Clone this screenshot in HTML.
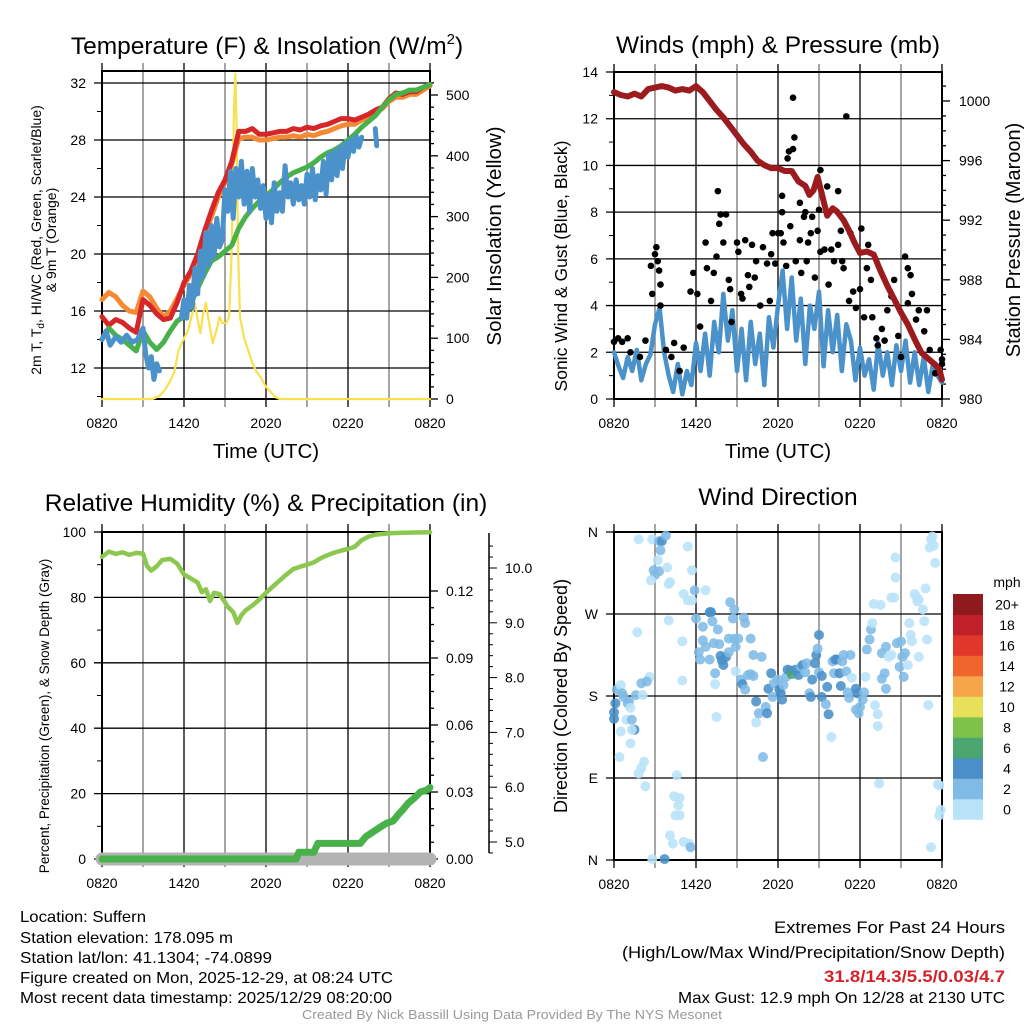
<!DOCTYPE html>
<html><head><meta charset="utf-8"><style>
html,body{margin:0;padding:0;background:#fff;}
svg{display:block;font-family:"Liberation Sans",Arial,sans-serif;}
</style></head><body>
<svg id="fig" xmlns="http://www.w3.org/2000/svg" width="1024" height="1024" viewBox="0 0 1024 1024">
<rect width="1024" height="1024" fill="#fff"/>
<g id="p1"></g>
<g id="p2"></g>
<g id="p3"></g>
<g id="p4"></g>
<text x="267" y="54" font-size="24.5" text-anchor="middle">Temperature (F) &amp; Insolation (W/m<tspan dy="-10" font-size="15">2</tspan><tspan dy="10">)</tspan></text>
<text x="778" y="53" font-size="24.5" text-anchor="middle">Winds (mph) &amp; Pressure (mb)</text>
<text x="266" y="511" font-size="24.5" text-anchor="middle">Relative Humidity (%) &amp; Precipitation (in)</text>
<text x="778" y="505" font-size="24.5" text-anchor="middle">Wind Direction</text>
<text x="266" y="458" font-size="20.5" text-anchor="middle">Time (UTC)</text>
<text x="778" y="458" font-size="20.5" text-anchor="middle">Time (UTC)</text>
<text transform="translate(41,240) rotate(-90)" font-size="14" text-anchor="middle">2m T, T<tspan dy="3" font-size="10">d</tspan><tspan dy="-3">, HI/WC (Red, Green, Scarlet/Blue)</tspan></text>
<text transform="translate(56,240) rotate(-90)" font-size="14" text-anchor="middle">&amp; 9m T (Orange)</text>
<text transform="translate(501,236) rotate(-90)" font-size="20.5" text-anchor="middle">Solar Insolation (Yellow)</text>
<text transform="translate(567,266) rotate(-90)" font-size="17.5" text-anchor="middle">Sonic Wind &amp; Gust (Blue, Black)</text>
<text transform="translate(1020,240) rotate(-90)" font-size="20" text-anchor="middle">Station Pressure (Maroon)</text>
<text transform="translate(49,716) rotate(-90)" font-size="13.5" text-anchor="middle">Percent, Precipitation (Green), &amp; Snow Depth (Gray)</text>
<text transform="translate(567,696) rotate(-90)" font-size="18" text-anchor="middle">Direction (Colored By Speed)</text>
<g font-size="16">
<text x="20" y="922" textLength="126" lengthAdjust="spacingAndGlyphs">Location: Suffern</text>
<text x="20" y="943" textLength="213" lengthAdjust="spacingAndGlyphs">Station elevation: 178.095 m</text>
<text x="20" y="963" textLength="252" lengthAdjust="spacingAndGlyphs">Station lat/lon: 41.1304; -74.0899</text>
<text x="20" y="983" textLength="373" lengthAdjust="spacingAndGlyphs">Figure created on Mon, 2025-12-29, at 08:24 UTC</text>
<text x="20" y="1003" textLength="372" lengthAdjust="spacingAndGlyphs">Most recent data timestamp: 2025/12/29 08:20:00</text>
</g>
<g font-size="17">
<text x="774" y="933" textLength="231" lengthAdjust="spacingAndGlyphs">Extremes For Past 24 Hours</text>
<text x="622" y="958" textLength="383" lengthAdjust="spacingAndGlyphs">(High/Low/Max Wind/Precipitation/Snow Depth)</text>
<text x="824" y="982" fill="#d2232a" font-weight="bold" textLength="181" lengthAdjust="spacingAndGlyphs">31.8/14.3/5.5/0.03/4.7</text>
<text x="678" y="1003" font-size="16" textLength="327" lengthAdjust="spacingAndGlyphs">Max Gust: 12.9 mph On 12/28 at 2130 UTC</text>
</g>
<text x="302" y="1019" font-size="13" fill="#999" textLength="420" lengthAdjust="spacingAndGlyphs">Created By Nick Bassill Using Data Provided By The NYS Mesonet</text>
</svg>
<script>
const timeLabels=["0820","1420","2020","0220","0820"];
const tempTicks=[12,16,20,24,28,32];
const solarTicks=[0,100,200,300,400,500];
const windTicks=[0,2,4,6,8,10,12,14];
const presTicks=[980,984,988,992,996,1000];
const rhTicks=[0,20,40,60,80,100];
const precipTicks=["0.00","0.03","0.06","0.09","0.12"];
const snowTicks=["5.0","6.0","7.0","8.0","9.0","10.0"];
const dirTicks=["N","E","S","W","N"];
const tGrid=[0,0.5,1,1.5,2,2.5,3,3.5,4,4.5,5,5.5,6,6.5,7,7.5,8,8.5,9,9.5,10,10.5,11,11.5,12,12.5,13,13.5,14,14.5,15,15.5,16,16.5,17,17.5,18,18.5,19,19.5,20,20.5,21,21.5,22,22.5,23,23.5,24];
const redT=[15.6,15.0,15.4,15.2,14.8,14.5,16.8,16.4,15.8,15.4,15.5,16.6,18.0,18.8,20.0,21.6,23.0,24.3,25.2,26.5,28.6,28.6,28.8,28.4,28.4,28.5,28.6,28.6,28.8,28.7,28.9,28.8,29.0,29.1,29.3,29.5,29.5,29.4,29.6,29.8,30.1,30.3,30.9,31.3,31.2,31.4,31.4,31.7,31.9];
const orangeT=[16.8,17.3,17.0,16.4,16.0,15.9,17.4,17.0,16.2,15.6,16.0,16.9,17.8,18.6,19.8,21.2,22.6,24.0,25.0,26.3,28.1,28.2,28.2,28.0,28.0,28.1,28.2,28.2,28.3,28.2,28.4,28.3,28.5,28.6,28.8,29.0,29.1,29.1,29.4,29.6,29.9,30.2,30.7,31.0,31.0,31.2,31.2,31.5,31.8];
const greenT=[14.0,14.8,14.3,14.0,13.6,13.2,14.6,13.8,13.3,13.8,14.6,15.3,15.6,16.5,17.6,18.6,19.5,19.8,20.2,20.6,21.8,22.6,23.2,23.7,24.1,24.5,25.0,25.4,25.7,25.9,26.1,26.4,26.8,27.1,27.3,27.6,28.0,28.4,28.9,29.3,29.7,30.3,30.8,31.2,31.3,31.5,31.5,31.7,31.9];
const blueTime=[0,0.3,0.6,1,1.4,1.8,2.2,2.6,3.0,3.2,3.4,3.6,3.8,4.0,4.2,5.0,5.8,6.0,6.2,6.4,6.6,6.8,7.0,7.2,7.4,7.6,7.8,8.0,8.2,8.4,8.6,8.8,9.0,9.2,9.4,9.6,9.8,10.0,10.2,10.4,10.6,10.8,11.0,11.2,11.4,11.6,11.8,12.0,12.2,12.4,12.6,12.8,13.0,13.2,13.4,13.6,13.8,14.0,14.2,14.4,14.6,14.8,15.0,15.2,15.4,15.6,15.8,16.0,16.2,16.4,16.6,16.8,17.0,17.2,17.4,17.6,17.8,18.0,18.2,18.4,18.6,18.8,19.0,19.5,20.0,20.1];
const blueT=[14.0,14.6,13.6,14.2,13.8,14.3,13.8,14.0,14.8,13.0,12.0,12.8,11.2,12.3,11.8,null,15.5,16.8,15.5,17.8,16.2,19.0,17.2,20.2,18.4,21.5,19.2,22.0,19.8,22.5,20.5,21.0,24.5,23.0,25.8,22.5,26.0,24.0,26.5,23.5,25.8,23.0,26.0,24.0,25.2,23.2,24.8,22.5,24.2,22.2,25.0,23.0,24.3,23.0,26.2,24.0,25.0,23.5,25.2,23.8,24.8,23.5,25.6,24.0,26.0,23.8,25.5,24.5,26.5,24.2,27.0,25.2,27.2,25.5,27.5,26.0,27.8,26.8,28.0,27.2,28.3,27.5,28.2,null,28.8,27.6];
const solarTime=[0,3.7,4.2,4.6,5.0,5.3,5.6,5.9,6.3,6.6,6.8,7.0,7.2,7.4,7.6,7.8,8.1,8.4,8.6,8.8,9.1,9.3,9.5,9.65,9.75,9.85,9.95,10.1,10.4,10.7,11.0,11.3,11.6,12.0,12.4,12.7,13.0,24];
const solarV=[0,0,5,15,30,45,80,95,113,140,158,130,108,140,158,130,92,115,135,125,125,135,250,470,535,450,250,135,100,80,59,45,36,20,10,3,0,0];
const presTime=[0,0.5,1,1.5,2,2.5,3,3.5,4,4.5,5,5.5,6,6.5,7,7.5,8,8.5,9,9.5,10,10.5,11,11.5,12,12.5,13,13.5,14,14.3,14.6,14.9,15.2,15.6,16,16.3,16.8,17.2,17.6,18,18.5,19,19.5,20,20.5,21,21.5,22,22.5,23,23.5,23.8,24];
const presV=[1000.6,1000.4,1000.3,1000.5,1000.3,1000.8,1000.9,1001.0,1000.9,1000.7,1000.8,1000.7,1001.0,1000.6,1000.0,999.4,998.9,998.3,997.7,997.1,996.6,996.0,995.7,995.5,995.5,995.3,995.3,994.6,994.3,993.7,994.0,994.9,993.8,992.3,992.8,992.6,992.0,991.3,990.5,989.8,989.9,989.7,988.6,987.6,986.7,985.8,985.0,984.0,983.1,982.7,982.3,982.0,981.3];
const windV=[2.0,1.4,0.9,1.8,1.2,2.1,0.8,1.5,1.9,3.2,3.9,2.0,1.0,0.3,1.5,0.2,1.2,0.6,2.4,1.2,2.8,1.0,3.3,2.0,4.5,2.5,3.8,1.2,3.0,0.8,3.3,1.5,2.8,0.6,3.5,2.2,4.0,5.5,3.0,5.2,2.5,4.3,1.5,4.0,3.0,4.6,1.4,3.8,2.0,3.6,1.2,3.2,2.5,0.8,2.2,1.0,1.7,0.4,2.4,1.0,2.0,0.6,2.3,1.2,2.5,0.7,2.0,0.6,1.8,0.3,1.5,1.0,0.7];
const gustT=[0,0.3,0.6,1.0,1.2,1.9,2.3,2.7,2.8,3.0,3.1,3.2,3.3,3.4,3.4,3.8,4.2,4.4,4.8,5.1,5.6,5.8,6.1,6.3,6.7,6.8,7.1,7.3,7.6,7.7,7.8,8.0,7.5,8.2,8.4,8.5,8.6,9.0,9.1,9.3,9.4,9.6,9.8,9.9,10.1,10.3,10.4,10.7,10.9,11.2,11.4,11.5,11.6,11.8,12.0,12.2,12.3,12.3,12.4,12.6,12.7,12.8,12.9,13.1,13.2,13.1,13.3,13.6,13.6,13.7,13.9,14.0,14.1,14.2,14.4,14.5,14.7,14.9,15.0,15.1,15.1,15.4,15.6,15.7,15.9,16.1,16.4,16.4,16.6,16.7,16.8,17.0,17.2,17.3,17.5,17.7,18.0,18.1,18.3,18.5,18.6,18.8,18.9,19.2,19.3,19.6,19.8,20.0,20.3,20.5,20.8,21.0,21.3,21.5,21.7,21.8,21.5,22.1,22.3,22.7,22.9,23.1,23.5,23.9,24.0,24.0];
const gustV=[2.45,2.6,2.45,2.6,2.0,1.8,2.5,5.7,4.5,6.2,6.5,5.9,5.5,4.9,4.0,2.1,1.8,2.4,1.2,2.2,4.6,5.4,4.5,3.1,6.7,5.6,4.2,5.4,8.9,7.5,7.9,6.7,6.1,7.9,5.1,4.7,3.3,6.7,6.3,4.5,4.3,6.8,5.3,4.8,6.6,5.2,5.9,4.0,6.5,5.8,4.2,6.2,7.1,5.8,7.1,7.1,8.7,8.0,6.7,5.7,10.3,10.6,7.4,10.7,11.2,12.9,5.9,8.4,6.8,5.4,7.8,8.0,5.9,6.7,7.1,7.8,5.2,7.2,8.1,9.8,6.3,6.4,9.1,4.9,6.4,5.9,8.9,6.6,7.2,5.9,5.6,12.1,4.2,7.1,4.6,3.9,4.7,7.3,3.5,5.6,6.6,5.1,3.5,2.6,2.3,3.0,2.5,3.8,4.4,5.1,2.7,1.8,6.1,5.6,5.3,4.5,4.1,3.4,3.8,2.9,3.8,2.1,1.1,2.1,1.7,1.5];
const rhTime=[0,0.5,1,1.5,2,2.5,3,3.3,3.6,4.0,4.4,5,5.5,6,6.5,7,7.3,7.6,7.9,8.2,8.6,9.0,9.2,9.6,9.9,10.2,10.5,11,11.5,12,12.5,13,13.5,14,14.5,15,15.5,16,16.5,17,17.5,18,18.5,19,19.5,20,21,22,24];
const rhV=[92.4,94,93.3,93.8,93.0,93.6,93.4,89.5,88.2,89.5,91.4,91.8,90.3,87,85.8,84.5,81.6,82.5,78.9,81.4,81.0,78.5,77.2,75.5,72.2,74.6,76.0,77.5,79.3,81.4,83.3,85.2,87.0,88.7,89.4,90,90.7,92.0,92.9,93.7,94.3,94.8,95.5,97.5,98.6,99.2,99.6,99.8,99.9];
const precipTime=[0,14.2,14.4,15.5,15.8,18.9,19.3,19.8,20.3,20.8,21.3,21.7,22.0,22.4,22.8,23.3,23.8,24];
const precipV=[0,0,0.003,0.003,0.007,0.007,0.010,0.012,0.014,0.016,0.017,0.020,0.022,0.025,0.027,0.030,0.031,0.032];
const snowTime=[0,24];
const snowV=[0,0];
const dirTime=[0.0,0,0.1,0.2,0.5,0.6,0.7,1.0,1.1,1.2,0.9,1.3,1.5,0.5,1.3,1.2,0.4,1.6,2.1,2.0,2.6,2.4,2.2,2.0,1.8,2.3,1.7,1.8,2.8,3.3,3.5,3.8,3.4,3.2,2.9,3.3,3.0,2.7,3.9,4.0,4.1,5.0,5.0,4.0,4.6,4.4,4.8,4.7,4.5,4.8,4.1,4.3,5.1,5.5,5.6,2.8,3.7,5.1,5.4,5.7,5.4,5.7,5.9,6.7,6.0,6.5,7.0,7.1,7.2,7.6,6.2,6.3,6.5,6.7,7.0,7.3,7.7,7.8,7.9,8.0,8.2,8.4,8.5,8.8,8.7,8.4,8.8,9.1,8.9,9.5,9.6,10.0,10.2,10.8,8.9,7.4,7.4,7.5,9.3,9.4,9.6,9.8,10.0,10.2,10.4,10.4,10.6,10.9,11.1,11.2,11.3,11.5,11.6,11.7,12.0,12.1,12.2,12.3,12.4,12.6,12.7,12.9,13.0,13.3,13.5,13.7,13.8,14.0,14.1,14.3,14.4,14.5,14.7,14.8,14.9,15.0,15.0,15.2,15.2,15.5,15.6,15.7,15.9,16.0,16.1,16.2,16.3,16.5,16.6,16.7,16.8,17.0,17.1,17.2,17.3,17.4,17.7,17.8,17.7,17.9,18.0,18.2,18.3,18.5,18.4,18.7,18.8,18.9,19.0,19.1,19.3,19.3,19.5,19.4,19.6,19.6,19.8,19.9,19.9,20.1,20.3,20.3,20.5,20.6,20.6,20.7,20.9,21.0,21.1,21.2,21.3,21.5,21.6,21.7,21.8,22.0,22.1,22.2,22.3,22.6,22.7,22.8,22.9,22.3,23.0,23.2,23.2,23.3,23.4,23.1,23.5,23.7,23.8,23.9,23.8];
const dirDeg=[162,155,172,187,192,183,179,172,174,167,154,154,143,141,143,128,113,181,181,194,201,196,108,101,95,81,250,352,352,350,350,356,340,329,318,317,313,307,321,303,305,240,197,263,93,70,68,60,49,49,27,18,20,18,14,1,1,292,285,285,344,318,296,296,265,256,272,272,262,253,228,220,241,234,220,238,237,224,219,214,223,228,283,275,265,243,243,243,234,266,260,243,225,223,207,205,193,157,198,193,187,203,204,202,174,151,161,113,168,161,188,205,179,194,198,187,183,176,192,201,209,208,204,209,203,212,214,206,216,183,179,198,216,225,232,247,206,202,179,171,190,160,135,218,205,220,220,205,191,218,225,207,184,178,225,200,188,183,165,161,168,176,184,231,201,242,253,260,281,170,160,147,280,84,227,199,205,234,188,223,225,288,288,310,332,238,212,240,223,201,227,214,260,247,240,292,289,284,286,275,262,298,242,223,170,14,352,355,345,343,326,83,49,55,82];
const dirSpeed=[5,5,5,3,1,3,3,3,3,1,1,3,5,1,1,1,1,3,1,3,1,3,1,1,1,1,1,1,1,3,5,3,3,1,3,3,3,1,1,1,1,1,1,1,1,1,1,1,1,1,1,1,1,1,3,1,5,1,1,1,1,1,3,1,3,3,5,5,3,3,3,3,3,3,3,3,3,5,5,5,5,3,3,3,3,3,3,3,3,3,3,3,3,3,1,3,1,1,3,5,3,3,3,3,5,1,3,3,3,5,5,5,3,3,3,5,5,5,3,3,5,5,7,5,5,3,5,3,3,3,5,5,5,5,3,5,3,5,5,3,5,5,1,3,3,5,5,5,5,3,3,3,3,3,3,1,5,5,3,3,3,3,3,3,1,3,3,1,1,1,1,1,1,1,3,3,3,3,3,1,1,1,1,1,1,3,3,3,3,3,3,1,1,1,1,1,1,1,1,1,1,1,1,1,1,1,1,1,1,1,1,1,1,1,1,1,1,1,1,1];
const speedLabels=["0","2","4","6","8","10","12","14","16","18","20+"];
const speedColors=["#b9e3f8","#7fbbe6","#4a8fc8","#4aa56f","#7fc24a","#e8e05a","#f6a649","#f0652d","#e0372a","#c0202a","#8f1a1e"];

const NS="http://www.w3.org/2000/svg";
function mk(parent,tag,attrs){const e=document.createElementNS(NS,tag);for(const k in attrs)e.setAttribute(k,attrs[k]);parent.appendChild(e);return e;}
function lin(d0,d1,r0,r1){return v=>r0+(v-d0)*(r1-r0)/(d1-d0);}
function pathFrom(xs,ys,fx,fy){let d="",pen=false;for(let i=0;i<xs.length;i++){if(ys[i]===null||ys[i]===undefined){pen=false;continue;}d+=(pen?"L":"M")+fx(xs[i]).toFixed(1)+","+fy(ys[i]).toFixed(1);pen=true;}return d;}

function frame(g,L,T,R,B){
  const gx=lin(0,24,L,R);
  for(let h=0;h<=24;h+=3){
    const x=gx(h);
    const ln=mk(g,"line",{x1:x,y1:T-8,x2:x,y2:B+8,stroke:(h%6===0)?"#000":"#777","stroke-width":1.3});
    
    
  }
  timeLabels.forEach((s,i)=>{
    const t=mk(g,"text",{x:gx(i*6),y:B+29,"font-size":14,"text-anchor":"middle"});t.textContent=s;
    
    
  });
  return gx;
}
function hgrid(g,L,R,y,label,x0){
  const ln=mk(g,"line",{x1:L-8,y1:y,x2:R,y2:y,stroke:"#000","stroke-width":1.3});
  
  
  if(label!==null){const t=mk(g,"text",{x:x0,y:y+5,"font-size":14,"text-anchor":"end"});t.textContent=label;
  
  }
}
function rightTick(g,x,y,len){
  mk(g,"line",{x1:x,y1:y,x2:x+len,y2:y,stroke:"#000","stroke-width":1.3});
}
function box(g,L,T,R,B){const r=mk(g,"rect",{x:L,y:T,width:R-L,height:B-T,fill:"none",stroke:"#000","stroke-width":2});
  
  }
function line(g,d,color,w,name){const p=mk(g,"path",{d:d,fill:"none",stroke:color,"stroke-width":w,"stroke-linejoin":"round","stroke-linecap":"round"});
  
  return p;}

// Panel 1
(function(){
  const g=document.getElementById("p1");const L=102,T=71,R=430,B=399;
  const gx=frame(g,L,T,R,B);
  const fy=lin(12,32,368,83);
  const fs=lin(0,500,399,95);
  tempTicks.forEach(v=>hgrid(g,L,R,fy(v),String(v),L-16));
  for(let v=10;v<=32;v+=2){if(v%4)mk(g,"line",{x1:L-5,y1:fy(v),x2:L,y2:fy(v),stroke:"#000"});}
  for(let v=0;v<=530;v+=20){rightTick(g,R,fs(v),v%100===0?8:4);}
  solarTicks.forEach(v=>{const t=mk(g,"text",{x:R+16,y:fs(v)+5,"font-size":14});t.textContent=String(v);
    
    });
  box(g,L,T,R,B);
  line(g,pathFrom(solarTime,solarV,gx,fs),"#f9e04f",2.2,"solar-line");
  line(g,pathFrom(tGrid,orangeT,gx,fy),"#f58a34",5,"9m-temp-line");
  line(g,pathFrom(tGrid,redT,gx,fy),"#d7262a",5,"2m-temp-line");
  line(g,pathFrom(tGrid,greenT,gx,fy),"#48b14a",5,"dewpoint-line");
  line(g,pathFrom(blueTime,blueT,gx,fy),"#4b92cb",5,"wind-chill-line");
})();

// Panel 2
(function(){
  const g=document.getElementById("p2");const L=614,T=72,R=942,B=399;
  const gx=frame(g,L,T,R,B);
  const fy=lin(0,14,399,72);
  const fp=lin(980,1000,399,101);
  windTicks.forEach(v=>hgrid(g,L,R,fy(v),String(v),L-16));
  for(let v=1;v<14;v+=2)mk(g,"line",{x1:L-5,y1:fy(v),x2:L,y2:fy(v),stroke:"#000"});
  for(let v=980;v<=1001;v+=1){rightTick(g,R,fp(v),v%4===0?8:4);}
  presTicks.forEach(v=>{const t=mk(g,"text",{x:R+17,y:fp(v)+5,"font-size":14});t.textContent=String(v);
    
    });
  box(g,L,T,R,B);
  const wt=windV.map((v,i)=>i/3);
  line(g,pathFrom(wt,windV,gx,fy),"#4b92cb",4.5,"sonic-wind-line");
  gustT.forEach((t,i)=>{const c=mk(g,"circle",{cx:gx(t),cy:fy(gustV[i]),r:3.3,fill:"#000"});
    
    });
  line(g,pathFrom(presTime,presV,gx,fp),"#9b1b1e",6,"pressure-line");
})();

// Panel 3
(function(){
  const g=document.getElementById("p3");const L=102,T=532,R=430,B=859;
  const gx=frame(g,L,T,R,B);
  const fy=lin(0,100,859,532);
  const fpr=lin(0,0.03,859,792);
  const fsn=lin(5,10,842,568);
  rhTicks.forEach(v=>hgrid(g,L,R,fy(v),String(v),L-16));
  for(let v=10;v<100;v+=20)mk(g,"line",{x1:L-5,y1:fy(v),x2:L,y2:fy(v),stroke:"#000"});
  for(let k=0;k<=16;k++){const v=k*0.0075;rightTick(g,R,fpr(v),k%4===0?8:4);}
  precipTicks.forEach(s=>{const t=mk(g,"text",{x:R+16,y:fpr(parseFloat(s))+5,"font-size":14});t.textContent=s;
    
    });
  const sx=489;
  const sa=mk(g,"line",{x1:sx,y1:533,x2:sx,y2:853,stroke:"#000","stroke-width":1.5});
  
  
  for(let k=0;k<=28;k++){const v=4.8+k*0.2;const y=fsn(v);if(y<533)continue;mk(g,"line",{x1:sx,y1:y,x2:sx+(Math.abs(Math.round(v*10)%10)===0?8:4),y2:y,stroke:"#000"});}
  snowTicks.forEach(s=>{const t=mk(g,"text",{x:sx+16,y:fsn(parseFloat(s))+5,"font-size":14});t.textContent=s;
    
    });
  box(g,L,T,R,B);
  line(g,pathFrom(snowTime,snowV,gx,v=>fpr(0)),"#b3b3b3",13,"snow-depth-line");
  line(g,pathFrom(precipTime,precipV,gx,fpr),"#48b14a",7,"precipitation-line");
  line(g,pathFrom(rhTime,rhV,gx,fy),"#8cc850",4.5,"humidity-line");
})();

// Panel 4
(function(){
  const g=document.getElementById("p4");const L=614,T=532,R=942,B=860;
  const gx=frame(g,L,T,R,B);
  const fy=lin(0,360,860,532);
  dirTicks.forEach((s,i)=>hgrid(g,L,R,fy(i*90),s,L-16));
  box(g,L,T,R,B);
  const n=Math.min(dirTime.length,dirDeg.length);
  for(let i=0;i<n;i++){
    const sp=(dirSpeed[i]===undefined)?1:dirSpeed[i];
    const idx=Math.min(10,Math.floor(sp/2));
    const c=mk(g,"circle",{cx:gx(dirTime[i]),cy:fy(dirDeg[i]),r:5,fill:speedColors[idx],opacity:0.88});
    
    
  }
  const cb=mk(g,"g",{});
  
  
  const t0=mk(cb,"text",{x:1007,y:587,"font-size":14,"text-anchor":"middle"});t0.textContent="mph";
  
  
  const h=20.5;
  speedLabels.forEach((s,i)=>{
    const y=594+(10-i)*h;
    const r=mk(cb,"rect",{x:953,y:y,width:30,height:h+0.3,fill:speedColors[i]});
    
    
    const t=mk(cb,"text",{x:1007,y:y+h/2+5,"font-size":14,"text-anchor":"middle"});t.textContent=s;
    
    
  });
})();
</script>
</body></html>
